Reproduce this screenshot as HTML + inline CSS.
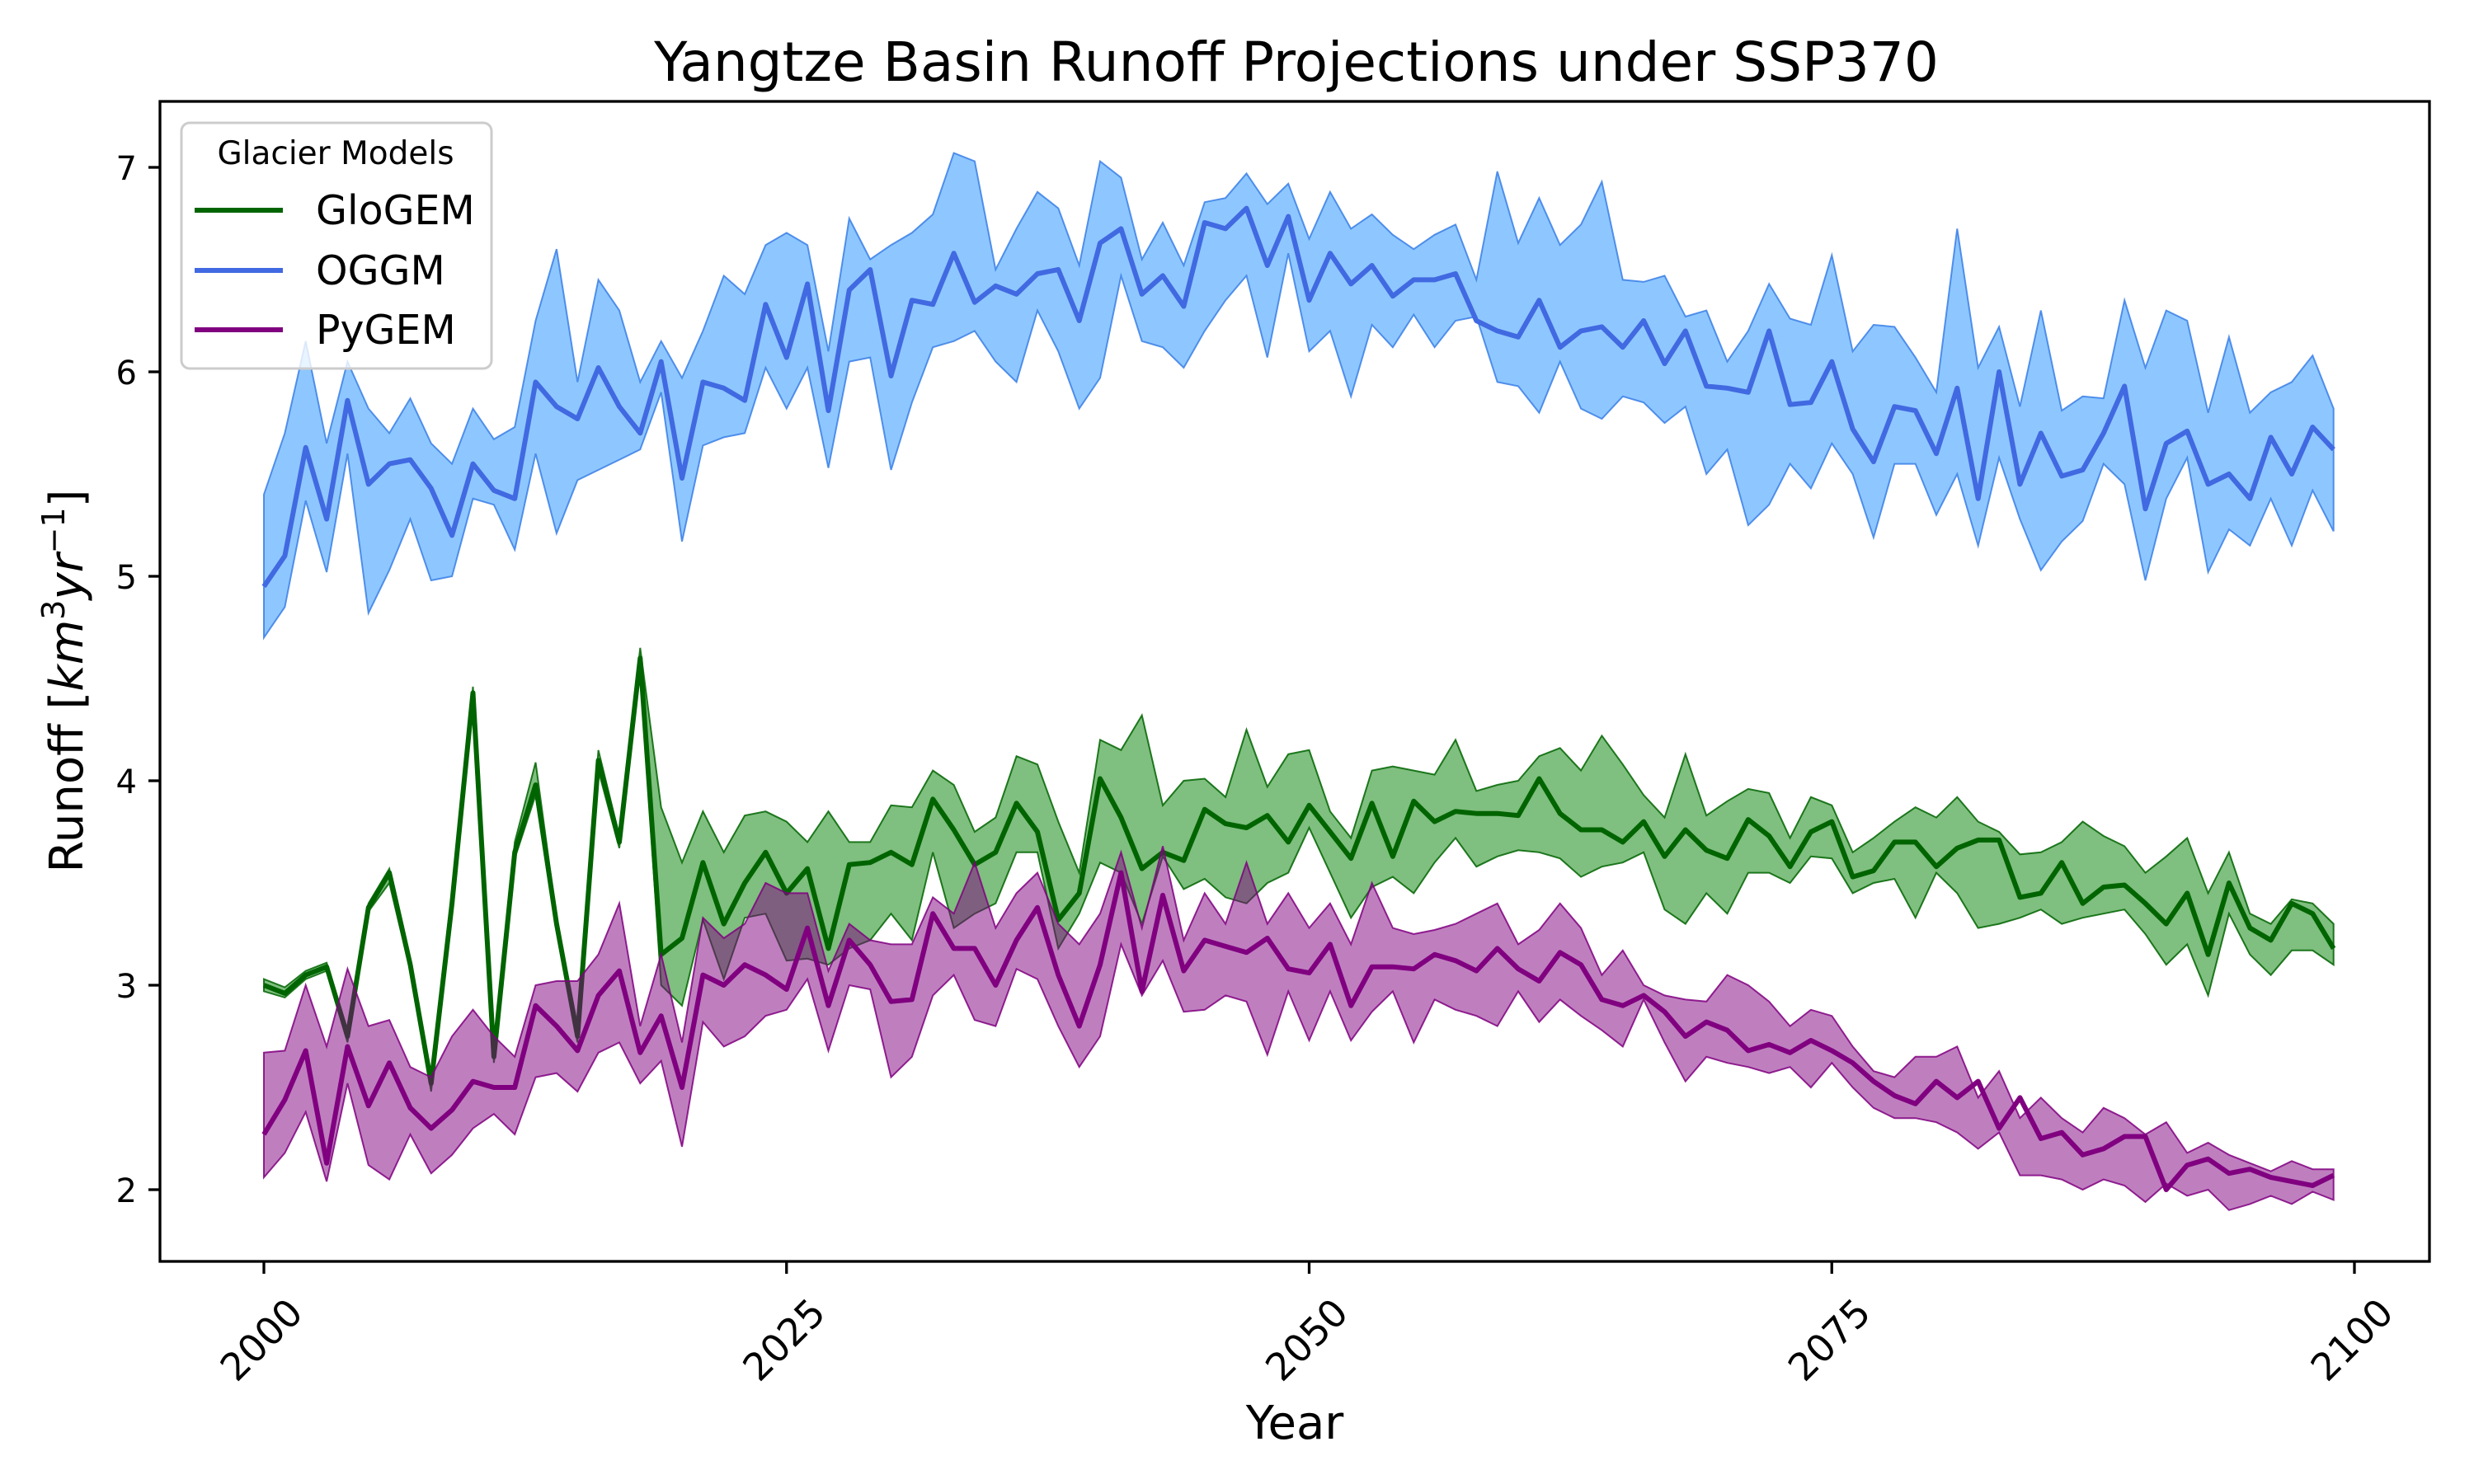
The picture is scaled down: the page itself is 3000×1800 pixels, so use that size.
<!DOCTYPE html>
<html><head><meta charset="utf-8"><style>
html,body{margin:0;padding:0;background:#fff;}
svg{display:block;font-family:"DejaVu Sans","Liberation Sans",sans-serif;}
</style></head><body>
<svg id="chart" width="3000" height="1800" viewBox="0 0 3000 1800" xmlns="http://www.w3.org/2000/svg">
<rect width="3000" height="1800" fill="#fff"/>
<g id="plot"></g>
<rect x="194" y="123" width="2752" height="1407" fill="none" stroke="#000" stroke-width="3.3"/>
<g id="xticks"></g>
<g id="yticks"></g>
<text x="1572" y="98" font-size="66" text-anchor="middle">Yangtze Basin Runoff Projections under SSP370</text>
<text x="1570" y="1745" font-size="56" text-anchor="middle">Year</text>
<text transform="translate(100,826) rotate(-90)" font-size="56" text-anchor="middle">Runoff [<tspan font-style="italic">km</tspan><tspan font-size="38" dy="-22">3</tspan><tspan font-style="italic" dy="22">yr</tspan><tspan font-size="38" dy="-22">−1</tspan><tspan dy="22">]</tspan></text>
<g>
<rect x="220" y="149" width="376" height="298" rx="10" fill="#fff" fill-opacity="0.8" stroke="#cccccc" stroke-width="3"/>
<text x="407" y="199" font-size="39" text-anchor="middle">Glacier Models</text>
<g><line x1="236" y1="255" x2="343" y2="255" stroke="#006400" stroke-width="6"/><text x="383" y="272" font-size="49">GloGEM</text></g>
<g><line x1="236" y1="328" x2="343" y2="328" stroke="#4169e1" stroke-width="6"/><text x="383" y="345" font-size="49">OGGM</text></g>
<g><line x1="236" y1="400" x2="343" y2="400" stroke="#800080" stroke-width="6"/><text x="383" y="417" font-size="49">PyGEM</text></g>
</g>
</svg>
<script>
const startYear = 2000;
const xTickLabels = [2000, 2025, 2050, 2075, 2100];
const yTickLabels = [2, 3, 4, 5, 6, 7];
const oggmMean = [4.95,5.1,5.63,5.28,5.86,5.45,5.55,5.57,5.43,5.2,5.55,5.42,5.38,5.95,5.83,5.77,6.02,5.83,5.7,6.05,5.48,5.95,5.92,5.86,6.33,6.07,6.43,5.81,6.4,6.5,5.98,6.35,6.33,6.58,6.34,6.42,6.38,6.48,6.5,6.25,6.63,6.7,6.38,6.47,6.32,6.73,6.7,6.8,6.52,6.76,6.35,6.58,6.43,6.52,6.37,6.45,6.45,6.48,6.25,6.2,6.17,6.35,6.12,6.2,6.22,6.12,6.25,6.04,6.2,5.93,5.92,5.9,6.2,5.84,5.85,6.05,5.72,5.56,5.83,5.81,5.6,5.92,5.38,6.0,5.45,5.7,5.49,5.52,5.7,5.93,5.33,5.65,5.71,5.45,5.5,5.38,5.68,5.5,5.73,5.62];
const oggmHigh = [5.4,5.7,6.15,5.65,6.05,5.82,5.7,5.87,5.65,5.55,5.82,5.67,5.73,6.25,6.6,5.95,6.45,6.3,5.95,6.15,5.97,6.2,6.47,6.38,6.62,6.68,6.62,6.1,6.75,6.55,6.62,6.68,6.77,7.07,7.03,6.5,6.7,6.88,6.8,6.52,7.03,6.95,6.55,6.73,6.52,6.83,6.85,6.97,6.82,6.92,6.65,6.88,6.7,6.77,6.67,6.6,6.67,6.72,6.45,6.98,6.63,6.85,6.62,6.72,6.93,6.45,6.44,6.47,6.27,6.3,6.05,6.2,6.43,6.26,6.23,6.57,6.1,6.23,6.22,6.07,5.9,6.7,6.02,6.22,5.83,6.3,5.81,5.88,5.87,6.35,6.02,6.3,6.25,5.8,6.17,5.8,5.9,5.95,6.08,5.82];
const oggmLow = [4.7,4.85,5.37,5.02,5.6,4.82,5.03,5.28,4.98,5.0,5.38,5.35,5.13,5.6,5.21,5.47,5.52,5.57,5.62,5.9,5.17,5.64,5.68,5.7,6.02,5.82,6.02,5.53,6.05,6.07,5.52,5.85,6.12,6.15,6.2,6.05,5.95,6.3,6.1,5.82,5.97,6.47,6.15,6.12,6.02,6.2,6.35,6.47,6.07,6.58,6.1,6.2,5.88,6.23,6.12,6.28,6.12,6.25,6.27,5.95,5.93,5.8,6.05,5.82,5.77,5.88,5.85,5.75,5.83,5.5,5.62,5.25,5.35,5.55,5.43,5.65,5.5,5.19,5.55,5.55,5.3,5.5,5.15,5.58,5.28,5.03,5.17,5.27,5.55,5.45,4.98,5.38,5.58,5.02,5.23,5.15,5.38,5.15,5.42,5.22];
const glogemMean = [3.0,2.96,3.05,3.09,2.75,3.38,3.55,3.1,2.52,3.4,4.43,2.65,3.65,3.98,3.3,2.75,4.1,3.7,4.6,3.15,3.23,3.6,3.3,3.5,3.65,3.45,3.57,3.18,3.59,3.6,3.65,3.59,3.91,3.76,3.59,3.65,3.89,3.75,3.32,3.45,4.01,3.82,3.57,3.65,3.61,3.86,3.79,3.77,3.83,3.7,3.88,3.75,3.62,3.89,3.63,3.9,3.8,3.85,3.84,3.84,3.83,4.01,3.84,3.76,3.76,3.7,3.8,3.63,3.76,3.66,3.62,3.81,3.73,3.58,3.75,3.8,3.53,3.56,3.7,3.7,3.58,3.67,3.71,3.71,3.43,3.45,3.6,3.4,3.48,3.49,3.4,3.3,3.45,3.15,3.5,3.28,3.22,3.4,3.35,3.18];
const glogemHigh = [3.03,2.99,3.07,3.11,2.78,3.4,3.57,3.13,2.56,3.43,4.46,2.68,3.7,4.09,3.33,2.8,4.15,3.73,4.65,3.87,3.6,3.85,3.65,3.83,3.85,3.8,3.7,3.85,3.7,3.7,3.88,3.87,4.05,3.98,3.75,3.82,4.12,4.08,3.8,3.55,4.2,4.15,4.32,3.88,4.0,4.01,3.92,4.25,3.97,4.13,4.15,3.85,3.72,4.05,4.07,4.05,4.03,4.2,3.95,3.98,4.0,4.12,4.16,4.05,4.22,4.08,3.93,3.82,4.13,3.83,3.9,3.96,3.94,3.72,3.92,3.88,3.65,3.72,3.8,3.87,3.82,3.92,3.8,3.75,3.64,3.65,3.7,3.8,3.73,3.68,3.55,3.63,3.72,3.45,3.65,3.35,3.3,3.42,3.4,3.3];
const glogemLow = [2.97,2.94,3.03,3.07,2.72,3.36,3.5,3.07,2.48,3.37,4.4,2.62,3.62,3.93,3.27,2.72,4.05,3.67,4.55,3.0,2.9,3.32,3.03,3.33,3.35,3.12,3.13,3.1,3.18,3.22,3.35,3.22,3.65,3.28,3.35,3.4,3.65,3.65,3.18,3.35,3.6,3.55,3.3,3.63,3.47,3.52,3.43,3.4,3.5,3.55,3.77,3.55,3.33,3.48,3.53,3.45,3.6,3.72,3.58,3.63,3.66,3.65,3.62,3.53,3.58,3.6,3.65,3.37,3.3,3.45,3.35,3.55,3.55,3.5,3.63,3.62,3.45,3.5,3.52,3.33,3.55,3.45,3.28,3.3,3.33,3.37,3.3,3.33,3.35,3.37,3.25,3.1,3.2,2.95,3.35,3.15,3.05,3.17,3.17,3.1];
const pygemMean = [2.27,2.44,2.68,2.13,2.7,2.41,2.62,2.4,2.3,2.39,2.53,2.5,2.5,2.9,2.8,2.68,2.95,3.07,2.67,2.85,2.5,3.05,3.0,3.1,3.05,2.98,3.28,2.9,3.22,3.1,2.92,2.93,3.35,3.18,3.18,3.0,3.22,3.38,3.05,2.8,3.1,3.55,2.97,3.44,3.07,3.22,3.19,3.16,3.23,3.08,3.06,3.2,2.9,3.09,3.09,3.08,3.15,3.12,3.07,3.18,3.08,3.02,3.16,3.1,2.93,2.9,2.95,2.87,2.75,2.82,2.78,2.68,2.71,2.67,2.73,2.68,2.62,2.53,2.46,2.42,2.53,2.45,2.53,2.3,2.45,2.25,2.28,2.17,2.2,2.26,2.26,2.0,2.12,2.15,2.08,2.1,2.06,2.04,2.02,2.07];
const pygemHigh = [2.67,2.68,3.0,2.7,3.08,2.8,2.83,2.6,2.55,2.75,2.88,2.75,2.65,3.0,3.02,3.02,3.15,3.4,2.8,3.15,2.72,3.33,3.23,3.3,3.5,3.45,3.45,3.07,3.3,3.22,3.2,3.2,3.43,3.35,3.6,3.28,3.45,3.55,3.3,3.2,3.35,3.65,3.28,3.68,3.22,3.45,3.3,3.6,3.3,3.45,3.28,3.4,3.2,3.5,3.28,3.25,3.27,3.3,3.35,3.4,3.2,3.27,3.4,3.28,3.05,3.17,3.0,2.95,2.93,2.92,3.05,3.0,2.92,2.8,2.88,2.85,2.7,2.58,2.55,2.65,2.65,2.7,2.45,2.58,2.35,2.45,2.35,2.28,2.4,2.35,2.27,2.33,2.18,2.23,2.17,2.13,2.09,2.14,2.1,2.1];
const pygemLow = [2.06,2.18,2.38,2.04,2.52,2.12,2.05,2.27,2.08,2.17,2.3,2.37,2.27,2.55,2.57,2.48,2.67,2.72,2.52,2.63,2.21,2.82,2.7,2.75,2.85,2.88,3.03,2.68,3.0,2.98,2.55,2.65,2.95,3.05,2.83,2.8,3.08,3.03,2.8,2.6,2.75,3.2,2.95,3.12,2.87,2.88,2.95,2.92,2.66,2.97,2.73,2.97,2.73,2.87,2.97,2.72,2.93,2.88,2.85,2.8,2.97,2.82,2.93,2.85,2.78,2.7,2.93,2.72,2.53,2.65,2.62,2.6,2.57,2.6,2.5,2.62,2.5,2.4,2.35,2.35,2.33,2.28,2.2,2.28,2.07,2.07,2.05,2.0,2.05,2.02,1.94,2.03,1.97,2.0,1.9,1.93,1.97,1.93,1.99,1.95];

const NS = 'http://www.w3.org/2000/svg';
const X0 = 320, XPX = 25.35;
const Y2 = 1443, YPX = 248;
function xs(year){ return X0 + (year - 2000) * XPX; }
function ys(v){ return Y2 - (v - 2) * YPX; }
function mk(tag, parent){ const e = document.createElementNS(NS, tag); parent.appendChild(e); return e; }

const plot = document.getElementById('plot');
function drawSeries(name, mean, low, high, lineColor, fillColor, edgeColor){
  const up = high.map((v,i)=>xs(startYear+i).toFixed(1)+','+ys(v).toFixed(1));
  const dn = low.map((v,i)=>xs(startYear+i).toFixed(1)+','+ys(v).toFixed(1)).reverse();
  const band = mk('polygon', plot);
  band.setAttribute('points', up.concat(dn).join(' '));
  band.setAttribute('fill', fillColor);
  band.setAttribute('fill-opacity', '0.5');
  band.setAttribute('stroke', edgeColor);
  band.setAttribute('stroke-opacity', '0.85');
  band.setAttribute('stroke-width', '2');
  
  
  const line = mk('polyline', plot);
  line.setAttribute('points', mean.map((v,i)=>xs(startYear+i).toFixed(1)+','+ys(v).toFixed(1)).join(' '));
  line.setAttribute('fill', 'none');
  line.setAttribute('stroke', lineColor);
  line.setAttribute('stroke-width', '6');
  line.setAttribute('stroke-linejoin', 'round');
  
  
}
drawSeries('glogem', glogemMean, glogemLow, glogemHigh, '#006400', '#008000', '#006400');
drawSeries('oggm', oggmMean, oggmLow, oggmHigh, '#4169e1', '#1e90ff', '#3a7fe6');
drawSeries('pygem', pygemMean, pygemLow, pygemHigh, '#800080', '#800080', '#800080');

const xg = document.getElementById('xticks');
xTickLabels.forEach(t=>{
  const x = xs(t);
  const tk = mk('line', xg);
  tk.setAttribute('x1', x); tk.setAttribute('x2', x);
  tk.setAttribute('y1', 1530); tk.setAttribute('y2', 1545);
  tk.setAttribute('stroke', '#000'); tk.setAttribute('stroke-width', '3.3');
  
  
  const tx = mk('text', xg);
  tx.setAttribute('transform', 'translate(' + (x - 3) + ',1625) rotate(-45)');
  tx.setAttribute('text-anchor', 'middle');
  tx.setAttribute('dominant-baseline', 'central');
  tx.setAttribute('font-size', '46');
  tx.textContent = t;
  
  
});
const yg = document.getElementById('yticks');
yTickLabels.forEach(t=>{
  const y = ys(t);
  const tk = mk('line', yg);
  tk.setAttribute('x1', 180); tk.setAttribute('x2', 194);
  tk.setAttribute('y1', y); tk.setAttribute('y2', y);
  tk.setAttribute('stroke', '#000'); tk.setAttribute('stroke-width', '3.3');
  
  
  const tx = mk('text', yg);
  tx.setAttribute('x', 166); tx.setAttribute('y', y + 15);
  tx.setAttribute('text-anchor', 'end');
  tx.setAttribute('font-size', '40');
  tx.textContent = t;
  
  
});
</script>
</body></html>
